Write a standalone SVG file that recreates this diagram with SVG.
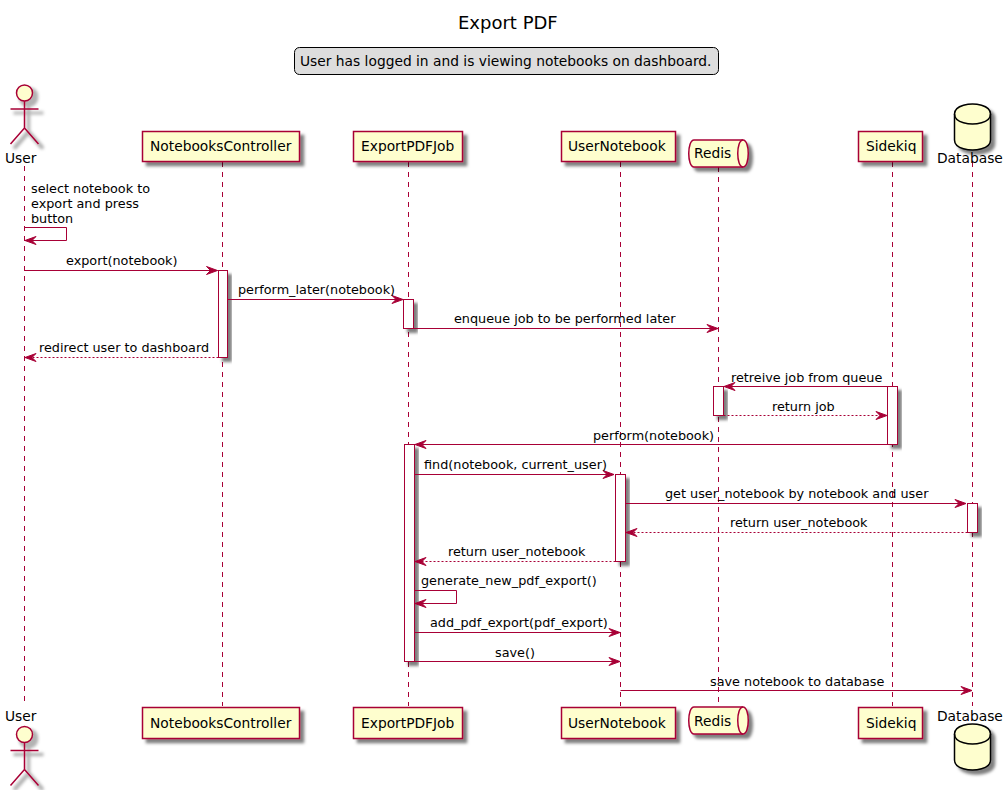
<svg xmlns="http://www.w3.org/2000/svg" width="1008" height="790" viewBox="0 0 1008 790">
<style>
text{font-family:"DejaVu Sans",sans-serif;fill:#000}
.m{font-size:12.8px}
.p{font-size:13.8px}
.t{font-size:18px}
.life{fill:none;stroke:#A80036;stroke-width:1;stroke-dasharray:5 5}
.box{fill:#FEFECE;stroke:#A80036;stroke-width:1.5}
.act{fill:#fff;stroke:#A80036;stroke-width:1}
.db{fill:#FEFECE;stroke:#000;stroke-width:1.5}
.msg{fill:none;stroke:#A80036;stroke-width:1;marker-end:url(#a)}
.ret{fill:none;stroke:#A80036;stroke-width:1;stroke-dasharray:2 2;marker-end:url(#a)}
.sh{filter:url(#s)}
.ash{filter:url(#as);fill:none;stroke:#A80036;stroke-width:1.5}
</style>
<defs>
<filter id="s" x="-30%" y="-30%" width="170%" height="170%"><feDropShadow dx="4" dy="4" stdDeviation="1.6" flood-color="#000" flood-opacity=".5"/></filter>
<filter id="as" x="-30%" y="-30%" width="170%" height="170%"><feMorphology in="SourceAlpha" operator="dilate" radius="1" result="d"/><feOffset in="d" dx="4" dy="4" result="o"/><feGaussianBlur in="o" stdDeviation="1.5" result="b"/><feFlood flood-color="#000" flood-opacity=".3"/><feComposite in2="b" operator="in" result="c"/><feMerge><feMergeNode in="c"/><feMergeNode in="SourceGraphic"/></feMerge></filter>
<marker id="a" markerUnits="userSpaceOnUse" markerWidth="14" markerHeight="12" viewBox="-12 -6 14 12" refX="0" refY="0" orient="auto"><path d="M-11,-4 L0,0 L-11,4 L-7,0 Z" fill="#A80036" stroke="#A80036"/></marker>
</defs>
<text class="t" x="458" y="29">Export PDF</text>
<g id="legend"><rect x="294.500" y="47.500" width="424" height="27" rx="5" fill="#DDD" stroke="#000"/><text class="p" x="300" y="66">User has logged in and is viewing notebooks on dashboard.</text></g>
<g id="lifelines">
<path class="life" d="M24.500,166V706M222.500,162V706M408.500,162V706M620.500,162V706M718.500,167V706M892.500,162V706M972.500,162V706"/>
</g>
<g id="activations">
<rect class="act sh" x="218.500" y="270.500" width="9" height="87"/>
<rect class="act sh" x="403.500" y="299.500" width="10" height="29"/>
<rect class="act sh" x="713.500" y="386.500" width="10" height="29"/>
<rect class="act sh" x="887.500" y="386.500" width="10" height="58"/>
<rect class="act sh" x="404.500" y="444.500" width="10" height="217"/>
<rect class="act sh" x="615.500" y="474.500" width="10" height="87"/>
<rect class="act sh" x="967.500" y="503.500" width="10" height="29"/>
</g>
<g id="connectors">
<path class="msg" d="M24.500,227.500H66.500V240.500H25"/>
<path class="msg" d="M24.500,270.500H217.500"/>
<path class="msg" d="M227.500,299.500H403"/>
<path class="msg" d="M413.500,328.500H718"/>
<path class="ret" d="M218.500,357.500H25"/>
<path class="msg" d="M887.500,386.500H724"/>
<path class="ret" d="M723.500,415.500H887"/>
<path class="msg" d="M887.500,444.500H415"/>
<path class="msg" d="M414.500,474.500H614"/>
<path class="msg" d="M625.500,503.500H966"/>
<path class="ret" d="M967.500,532.500H626"/>
<path class="ret" d="M615.500,561.500H415"/>
<path class="msg" d="M414.500,590.500H456.500V603.500H415"/>
<path class="msg" d="M414.500,632.500H620"/>
<path class="msg" d="M414.500,661.500H620"/>
<path class="msg" d="M620.500,690.500H972"/>
<g class="m">
<text x="31" y="193">select notebook to</text>
<text x="31" y="208">export and press</text>
<text x="31" y="223">button</text>
<text x="66" y="265">export(notebook)</text>
<text x="238" y="294">perform_later(notebook)</text>
<text x="454" y="323">enqueue job to be performed later</text>
<text x="39" y="352">redirect user to dashboard</text>
<text x="731" y="382">retreive job from queue</text>
<text x="772" y="411">return job</text>
<text x="593" y="440">perform(notebook)</text>
<text x="424" y="469">find(notebook, current_user)</text>
<text x="665" y="498">get user_notebook by notebook and user</text>
<text x="730" y="527">return user_notebook</text>
<text x="448" y="556">return user_notebook</text>
<text x="421" y="585">generate_new_pdf_export()</text>
<text x="430" y="627">add_pdf_export(pdf_export)</text>
<text x="495" y="657">save()</text>
<text x="710" y="686">save notebook to database</text>
</g>
</g>
<g id="user-top">
<g class="ash"><circle cx="24.500" cy="93" r="8" fill="#FEFECE"/><path d="M24.500,101V128M10.500,109H38.500M24.500,128L10.500,144M24.500,128L38.500,144"/></g>
<text class="p" x="5" y="163">User</text>
</g>
<g id="notebookscontroller-top"><rect class="box sh" x="142.500" y="131.500" width="157" height="30"/><text class="p" x="150" y="151">NotebooksController</text></g>
<g id="exportpdfjob-top"><rect class="box sh" x="353.500" y="131.500" width="109" height="30"/><text class="p" x="361" y="151">ExportPDFJob</text></g>
<g id="usernotebook-top"><rect class="box sh" x="561.500" y="131.500" width="114" height="30"/><text class="p" x="568" y="151">UserNotebook</text></g>
<g id="redis-top"><g class="sh"><path class="box" d="M694,140H743C750,140 750,167 743,167H694C687,167 687,140 694,140Z"/><path class="box" style="fill:none" d="M743,140C736,140 736,167 743,167"/></g><text class="p" x="694" y="158">Redis</text></g>
<g id="sidekiq-top"><rect class="box sh" x="858.500" y="131.500" width="64" height="30"/><text class="p" x="866" y="151">Sidekiq</text></g>
<g id="database-top"><g class="sh"><path class="db" d="M954.500,114C954.500,104 972.500,104 972.500,104C972.500,104 990.500,104 990.500,114V140C990.500,150 972.500,150 972.500,150C972.500,150 954.500,150 954.500,140Z"/><path class="db" style="fill:none" d="M954.500,114C954.500,124 972.500,124 972.500,124C972.500,124 990.500,124 990.500,114"/></g><text class="p" x="937" y="163">Database</text></g>
<g id="user-bottom">
<text class="p" x="5" y="721">User</text>
<g class="ash"><circle cx="24.500" cy="734.500" r="8" fill="#FEFECE"/><path d="M24.500,742.500V769.500M10.500,750.500H38.500M24.500,769.500L10.500,785.500M24.500,769.500L38.500,785.500"/></g>
</g>
<g id="notebookscontroller-bottom"><rect class="box sh" x="142.500" y="707.500" width="157" height="31"/><text class="p" x="150" y="728">NotebooksController</text></g>
<g id="exportpdfjob-bottom"><rect class="box sh" x="353.500" y="707.500" width="109" height="31"/><text class="p" x="361" y="728">ExportPDFJob</text></g>
<g id="usernotebook-bottom"><rect class="box sh" x="561.500" y="707.500" width="114" height="31"/><text class="p" x="568" y="728">UserNotebook</text></g>
<g id="redis-bottom"><g class="sh"><path class="box" d="M694,707H743C750,707 750,734 743,734H694C687,734 687,707 694,707Z"/><path class="box" style="fill:none" d="M743,707C736,707 736,734 743,734"/></g><text class="p" x="694" y="726">Redis</text></g>
<g id="sidekiq-bottom"><rect class="box sh" x="858.500" y="707.500" width="64" height="31"/><text class="p" x="866" y="728">Sidekiq</text></g>
<g id="database-bottom"><text class="p" x="937" y="721">Database</text><g class="sh"><path class="db" d="M954.500,734C954.500,724 972.500,724 972.500,724C972.500,724 990.500,724 990.500,734V760C990.500,770 972.500,770 972.500,770C972.500,770 954.500,770 954.500,760Z"/><path class="db" style="fill:none" d="M954.500,734C954.500,744 972.500,744 972.500,744C972.500,744 990.500,744 990.500,734"/></g></g>
</svg>
